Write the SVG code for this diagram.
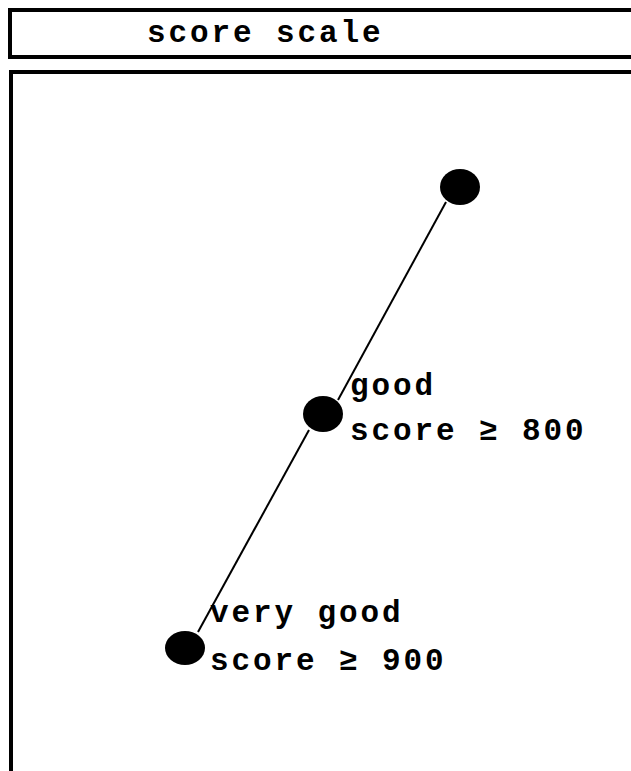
<svg xmlns="http://www.w3.org/2000/svg" width="631" height="771" viewBox="0 0 631 771">
<style>
.box{fill:none;stroke:#000;stroke-width:4}
.t{font-family:"Liberation Mono","DejaVu Sans Mono",monospace;font-size:31px;font-weight:bold;letter-spacing:2.9px;fill:#000}
.dot{fill:#000}
.ln{stroke:#000;stroke-width:2;fill:none}
</style>
<g id="header">
<rect class="box" x="10" y="10" width="640" height="47"/>
<text class="t" x="147" y="42">score scale</text>
</g>
<g id="panel">
<rect class="box" x="11" y="72" width="640" height="720"/>
</g>
<g id="connectors">
<line class="ln" x1="446" y1="202" x2="338" y2="400"/>
<line class="ln" x1="309" y1="430" x2="198" y2="632"/>
</g>
<g id="node-top">
<ellipse class="dot" cx="460" cy="187" rx="20" ry="18"/>
</g>
<g id="node-good">
<ellipse class="dot" cx="323" cy="414" rx="20" ry="18"/>
<text class="t" x="350" y="395">good</text>
<text class="t" x="350" y="440">score ≥ 800</text>
</g>
<g id="node-very-good">
<ellipse class="dot" cx="185" cy="648" rx="20" ry="17"/>
<text class="t" x="210" y="622">very good</text>
<text class="t" x="210" y="670">score ≥ 900</text>
</g>
</svg>
